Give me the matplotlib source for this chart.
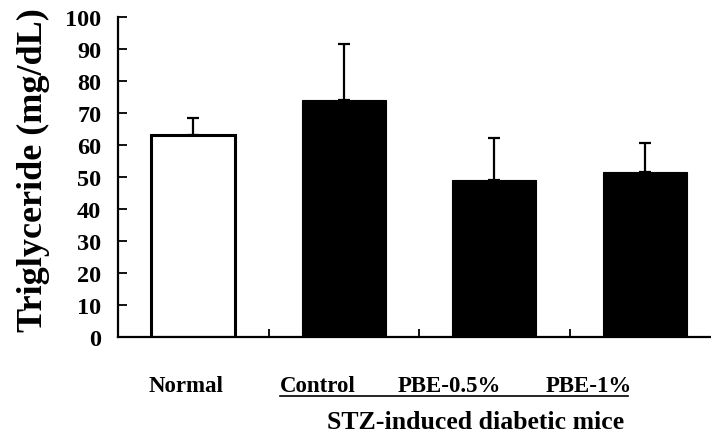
import numpy as np
import matplotlib
matplotlib.use("Agg")
import matplotlib.pyplot as plt

plt.rcParams['font.family'] = ['Liberation Serif', 'DejaVu Serif']
plt.rcParams['font.weight'] = 'bold'

# data
groups = ['Normal', 'Control', 'PBE-0.5%', 'PBE-1%']
tg_mean = [63.1, 74.0, 49.0, 51.5]
tg_err = [5.3, 17.7, 13.2, 9.1]
bar_colors = ['white', 'black', 'black', 'black']
yticks = np.arange(0, 101, 10)

W, H = 711, 439
fig = plt.figure(figsize=(W / 100, H / 100), dpi=100)
# axes box in pixels: left 118, bottom 338, top 18, runs off the right edge
ax = fig.add_axes([118 / W, (H - 338) / H, (W - 118) / W, 320 / H])

x = np.arange(len(groups))
ax.bar(x, tg_mean, width=0.56, color=bar_colors, edgecolor='black',
       linewidth=[2.2, 0.8, 0.8, 0.8], zorder=2)
ax.errorbar(x, tg_mean, yerr=[np.zeros(len(tg_err)), tg_err], fmt='none',
            ecolor='black', elinewidth=1.6, capsize=4.5, capthick=1.6, zorder=1)

ax.set_xlim(-0.5, -0.5 + (W - 118) / 150.5)
ax.set_ylim(0, 100)
ax.set_yticks(yticks)
ax.set_yticklabels([str(v) for v in yticks], fontsize=17.5, fontweight='bold')
ax.set_xticks([0.5, 1.5, 2.5])
ax.set_xticklabels([])
ax.tick_params(axis='y', direction='in', length=6.5, width=1.3, pad=12)
ax.tick_params(axis='x', direction='in', length=6, width=1.3)
for s in ['top', 'right']:
    ax.spines[s].set_visible(False)
for s in ['left', 'bottom']:
    ax.spines[s].set_linewidth(1.6)

fig.text(33 / W, 1 - 170 / H, 'Triglyceride (mg/dL)', rotation=90,
         ha='center', va='center', fontsize=26, fontweight='bold')

# category labels (not centred under bars in the original)
label_px = [186.5, 318, 449.5, 588.5]
for name, px in zip(groups, label_px):
    fig.text(px / W, 1 - 387 / H, name, ha='center', va='center',
             fontsize=16.5, fontweight='bold')

fig.add_artist(plt.Line2D([280 / W, 628 / W], [1 - 397 / H, 1 - 397 / H],
                          color='black', linewidth=1.2))
fig.text(476 / W, 1 - 423 / H, 'STZ-induced diabetic mice', ha='center',
         va='center', fontsize=18.5, fontweight='bold')

fig.savefig('out.png', dpi=100)
